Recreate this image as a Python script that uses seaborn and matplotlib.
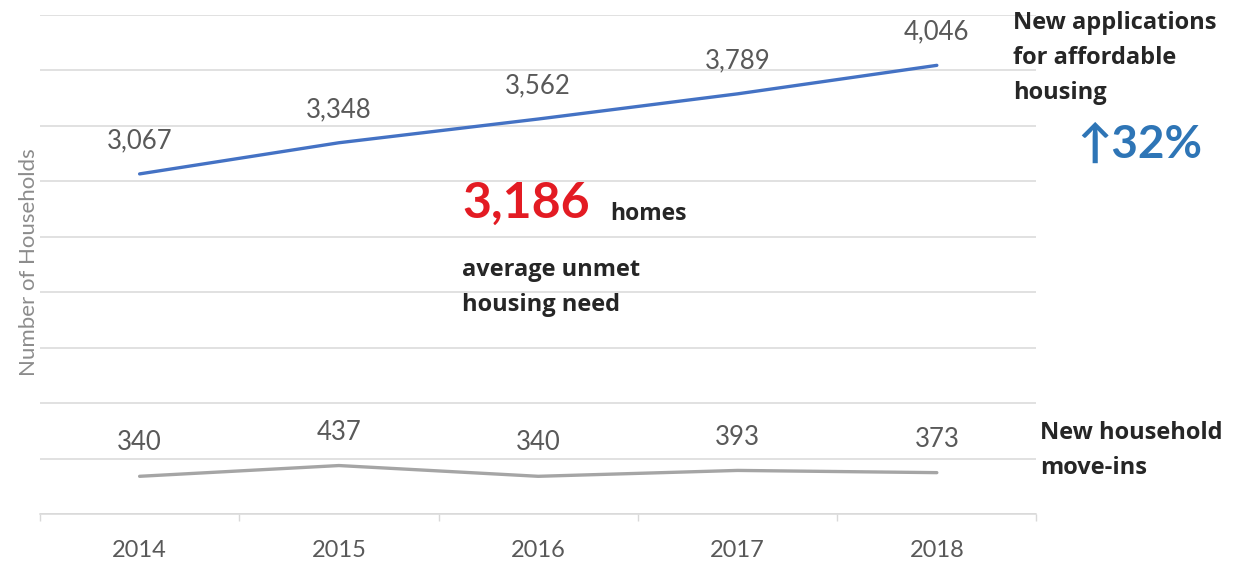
import matplotlib
matplotlib.use("Agg")
import matplotlib.pyplot as plt
import seaborn as sns
import pandas as pd

years = [2014, 2015, 2016, 2017, 2018]
applications = [3067, 3348, 3562, 3789, 4046]
move_ins = [340, 437, 340, 393, 373]
series_names = ["New applications\nfor affordable\nhousing", "New household\nmove-ins"]

df = pd.DataFrame({
    "year": years * 2,
    "value": applications + move_ins,
    "series": [series_names[0]] * 5 + [series_names[1]] * 5,
})

sns.set_theme(style="white")
plt.rcParams['font.family'] = ['Lato', 'DejaVu Sans']
BOLD_FAM = ['Open Sans', 'DejaVu Sans']

fig = plt.figure(figsize=(12.41, 5.62), dpi=100)
ax = fig.add_axes([0.0322, 0.0854, 0.8030, 0.8879])

palette = {series_names[0]: "#4472C4", series_names[1]: "#A5A5A5"}
sns.lineplot(data=df, x="year", y="value", hue="series", palette=palette,
             linewidth=2.4, legend=False, ax=ax)

ax.set_xlim(2013.5, 2018.5)
ax.set_ylim(0, 4500)
ax.set_yticks(range(0, 4501, 500))
ax.set_yticklabels([])
ax.tick_params(axis="y", length=0)
ax.yaxis.grid(True, color="#D9D9D9", linewidth=1.1)
ax.set_xticks(years)
ax.set_xticklabels([str(y) for y in years], color="#595959", fontsize=17)
ax.set_xticks([2013.5 + i for i in range(6)], minor=True)
ax.tick_params(axis="x", which="major", length=0, pad=19)
ax.tick_params(axis="x", which="minor", length=5, color="#D9D9D9", direction="out", bottom=True)
for s in ["top", "right", "left"]:
    ax.spines[s].set_visible(False)
ax.spines["bottom"].set_color("#D9D9D9")
ax.spines["bottom"].set_linewidth(1.1)
ax.set_xlabel("")
ax.set_ylabel("Number of Households", color="#8C8C8C", fontsize=16, labelpad=2)
ax.yaxis.set_label_coords(-0.001, 0.505)

for x, v in zip(years, applications):
    ax.annotate(f"{v:,}", (x, v), xytext=(0, 24), textcoords="offset points",
                ha="center", va="center", fontsize=18.5, color="#595959")
for x, v in zip(years, move_ins):
    ax.annotate(f"{v:,}", (x, v), xytext=(0, 24), textcoords="offset points",
                ha="center", va="center", fontsize=18.5, color="#595959")

fig.text(1013 / 1241, 1 - 11 / 562, series_names[0], ha="left", va="top",
         fontsize=17, fontweight="bold", color="#262626", linespacing=1.62, family=BOLD_FAM)
fig.text(1040 / 1241, 1 - 421 / 562, series_names[1], ha="left", va="top",
         fontsize=17, fontweight="bold", color="#262626", linespacing=1.62, family=BOLD_FAM)
fig.text(1140 / 1241, 1 - 145 / 562, "↑32%", ha="center", va="center",
         fontsize=33, fontweight="bold", color="#2E75B6")

fig.text(462 / 1241, 1 - 203 / 562, "3,186", ha="left", va="center",
         fontsize=36, fontweight="bold", color="#E31B23")
fig.text(610 / 1241, 1 - 214 / 562, "homes", ha="left", va="center",
         fontsize=16.5, fontweight="bold", color="#262626", family=BOLD_FAM)
fig.text(462 / 1241, 1 - 258 / 562, "average unmet\nhousing need", ha="left", va="top",
         fontsize=17, fontweight="bold", color="#262626", linespacing=1.62, family=BOLD_FAM)

fig.savefig("out.png", dpi=100)
